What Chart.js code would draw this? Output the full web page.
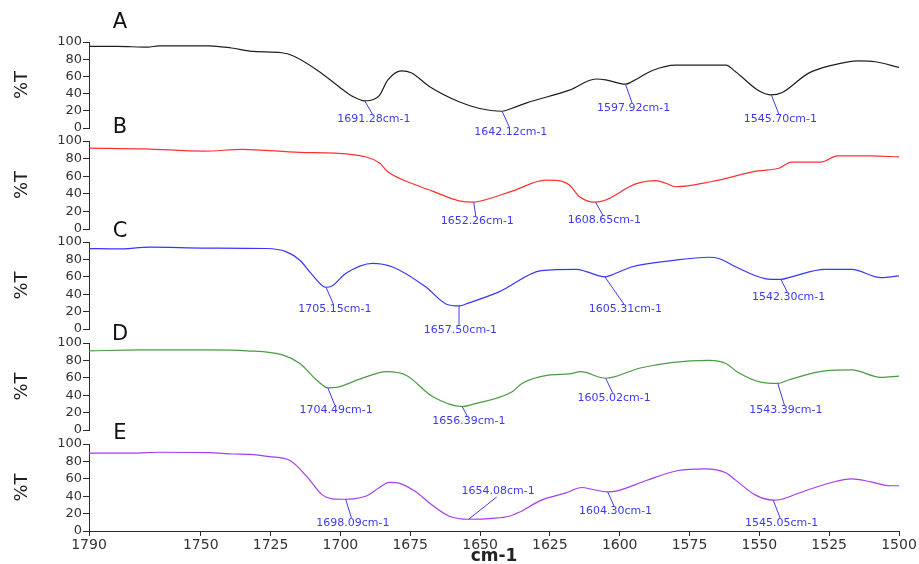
<!DOCTYPE html>
<html>
<head>
<meta charset="utf-8">
<script src="https://cdn.jsdelivr.net/npm/chart.js@4.4.1/dist/chart.umd.min.js"></script>
<style>
    body { margin: 0; background: #fff; overflow: hidden; }
    #wrap { position: relative; width: 919px; height: 564px; overflow: hidden; }
    #wrap canvas { position: absolute; left: 0; }
</style>
</head>
<body>
<div id="wrap"></div>
<script>
// --- Data (wavenumber in cm-1, transmittance in %T) ---

const X_TICKS = [1790, 1750, 1725, 1700, 1675, 1650, 1625, 1600, 1575, 1550, 1525, 1500];
const Y_TICKS = [0, 20, 40, 60, 80, 100];

const wnA = [1790, 1780, 1769, 1765, 1747, 1739, 1731, 1721, 1717, 1707.5, 1700.5, 1695.5, 1691.28, 1689.5, 1686, 1683, 1678, 1674.5, 1668, 1657.5, 1650.5, 1642.12, 1638.5, 1633.5, 1618, 1608.5, 1605, 1597.92, 1595.5, 1588.5, 1580, 1562, 1558.5, 1550.5, 1545.70, 1542, 1532.5, 1524.5, 1514.5, 1508.5, 1500];
const tA  = [95, 95, 94, 95.5, 95.5, 93, 89, 87.5, 84, 65.5, 48, 36.5, 31.5, 32, 38, 56, 66.5, 64, 48, 30.5, 23, 19.5, 23, 29, 44, 57, 56, 51, 54, 66.5, 73, 73, 65.5, 44, 38.5, 41, 63.5, 72.5, 78, 77, 70.5];

const wnB = [1790, 1770, 1749, 1735, 1714.5, 1697, 1686, 1683, 1673, 1667, 1657.5, 1652.26, 1649.5, 1638.5, 1626.5, 1622, 1618, 1614.5, 1608.65, 1605, 1594.5, 1587, 1583.5, 1580, 1567, 1550.5, 1543, 1538.5, 1528, 1522, 1510, 1500];
const tB  = [92, 91, 88.5, 90.5, 87, 85, 75, 65, 50, 43, 32, 30.5, 32, 43, 55.5, 55, 50, 37, 30.5, 33, 51, 55, 52, 48, 54, 66, 69, 76, 76, 83, 83, 82];

const wnC = [1790, 1780, 1768, 1748, 1726.5, 1719.5, 1714.5, 1710, 1705.15, 1703, 1698, 1688.5, 1681.5, 1669.5, 1662, 1657.50, 1654, 1643, 1628, 1615.5, 1612, 1605.31, 1603, 1595.5, 1581.5, 1568, 1564.5, 1558.5, 1548, 1542.30, 1538.5, 1526.5, 1517, 1506.5, 1500];
const tC  = [92.5, 92, 94, 93, 92.5, 89, 79, 62, 48, 49.5, 64, 75.5, 71.5, 48.5, 28.5, 26.5, 30, 43, 67, 68.5, 66, 60, 62, 71.5, 78.5, 82.5, 81, 71.5, 58, 57, 60, 68.5, 68.5, 59, 61];

const wnD = [1790, 1771, 1748, 1733.5, 1720.5, 1714.5, 1708.5, 1704.49, 1701.5, 1693, 1683.5, 1676.5, 1667, 1656.39, 1652, 1638.5, 1635, 1625.5, 1618, 1614, 1605.02, 1593, 1581.5, 1568, 1562, 1558, 1549.5, 1543.39, 1539.5, 1526.5, 1517, 1506.5, 1500];
const tD  = [91, 92, 92, 91, 86, 76.5, 57.5, 48.5, 49, 58.5, 67, 63, 38.5, 27, 30, 44, 53.5, 63, 64.5, 67, 59.5, 71, 77.5, 80, 76.5, 67, 55, 53.5, 57.5, 68, 69, 60.5, 62];

const wnE = [1790, 1774, 1764.5, 1747, 1738.5, 1732.5, 1725.5, 1718, 1712, 1706.5, 1703, 1698.09, 1695.5, 1690.5, 1686, 1682.5, 1679, 1673, 1668, 1661, 1654.08, 1645.5, 1639.5, 1636, 1628, 1619.5, 1613.5, 1610, 1604.30, 1600.5, 1590.5, 1579, 1569.5, 1562, 1558.5, 1551.5, 1545.05, 1542, 1535.5, 1524.5, 1517, 1510, 1503, 1500];
const tE  = [89.5, 89.5, 90.5, 90, 88.5, 88, 85.5, 81, 62.5, 41.5, 37, 36.5, 37, 40.5, 50, 56, 55, 45, 32, 17, 13.5, 14.5, 17, 21.5, 35.5, 43.5, 50, 48, 45, 46.5, 58, 69.5, 71.5, 67, 58.5, 41.5, 35.5, 36.5, 44, 55.5, 60, 56.5, 52, 52];

// peak: [wavenumber, %T at peak, label wavenumber, label %T]
const peaksA = [[1691.28, 31.5, 1688, 10.5], [1642.12, 19.5, 1639, -4.5], [1597.92, 51, 1595, 23], [1545.70, 38.5, 1542.5, 10.5]];
const peaksB = [[1652.26, 30.5, 1651, 9], [1608.65, 30.5, 1605.5, 10]];
const peaksC = [[1705.15, 48, 1702, 23], [1657.50, 26.5, 1657, -1], [1605.31, 60, 1598, 23], [1542.30, 57, 1539.5, 37]];
const peaksD = [[1704.49, 48.5, 1701.5, 23], [1656.39, 27, 1654, 10], [1605.02, 59.5, 1602, 37], [1543.39, 53.5, 1540.5, 23]];
const peaksE = [[1698.09, 36.5, 1695.5, 9], [1654.08, 13.5, 1643.5, 46], [1604.30, 45, 1601.5, 23], [1545.05, 35.5, 1542, 9]];

// --- Layout / style ---

const AXIS_COLOR = '#2b2b2b';
const PEAK_COLOR = '#3b3bef';
const FONT = '"DejaVu Sans", Arial, sans-serif';

const PANELS = [
    { letter: 'A', wn: wnA, t: tA, peaks: peaksA, color: '#1e1e1e', top: 42,  bottom: 128, letterY: 23 },
    { letter: 'B', wn: wnB, t: tB, peaks: peaksB, color: '#ff3030', top: 141, bottom: 229, letterY: 127.5 },
    { letter: 'C', wn: wnC, t: tC, peaks: peaksC, color: '#3636ff', top: 242, bottom: 329, letterY: 231.5 },
    { letter: 'D', wn: wnD, t: tD, peaks: peaksD, color: '#4b9a43', top: 343, bottom: 430, letterY: 334.5 },
    { letter: 'E', wn: wnE, t: tE, peaks: peaksE, color: '#a63cf0', top: 444, bottom: 531, letterY: 433.5 }
];

// Draws the panel letter plus the peak callouts (leader line + wavenumber text)
const peakLabels = {
    id: 'peakLabels',
    afterDraw(chart, args, opts) {
        const { ctx, chartArea, scales: { x, y } } = chart;
        ctx.save();

        ctx.fillStyle = '#111';
        ctx.font = `21px ${FONT}`;
        ctx.textAlign = 'center';
        ctx.textBaseline = 'middle';
        ctx.fillText(opts.letter, chartArea.left + 31, chartArea.top + opts.letterDy);

        ctx.font = `11px ${FONT}`;
        ctx.fillStyle = PEAK_COLOR;
        ctx.strokeStyle = PEAK_COLOR;
        ctx.lineWidth = 1;
        opts.peaks.forEach(([wn, t, lwn, lt]) => {
            const px = x.getPixelForValue(wn);
            const py = y.getPixelForValue(t);
            const lx = x.getPixelForValue(lwn);
            const ly = y.getPixelForValue(lt);
            const endY = ly > py ? ly - 5 : ly + 6;
            ctx.beginPath();
            ctx.moveTo(px, py);
            ctx.lineTo(lx - 1.5, endY);
            ctx.stroke();
            ctx.fillText(`${wn.toFixed(2)}cm-1`, lx, ly);
        });
        ctx.restore();
    }
};

function makePanel(p, i) {
    const wrap = document.getElementById('wrap');
    const last = i === PANELS.length - 1;
    const padTop = 30;
    const padBottom = last ? 0 : 22;
    const xAxisHeight = 34;
    const height = p.bottom - p.top + padTop + (last ? xAxisHeight : padBottom);

    const canvas = document.createElement('canvas');
    canvas.width = 919;
    canvas.height = height;
    canvas.style.top = `${p.top - padTop}px`;
    wrap.appendChild(canvas);

    return new Chart(canvas, {
        type: 'line',
        data: {
            datasets: [{
                data: p.wn.map((w, k) => ({ x: w, y: p.t[k] })),
                borderColor: p.color,
                borderWidth: 1.2,
                pointRadius: 0,
                fill: false,
                cubicInterpolationMode: 'monotone'
            }]
        },
        options: {
            responsive: false,
            animation: false,
            events: [],
            layout: { padding: { top: padTop, bottom: padBottom, left: 0, right: 20 } },
            plugins: {
                legend: { display: false },
                tooltip: { enabled: false },
                peakLabels: { letter: p.letter, letterDy: p.letterY - p.top, peaks: p.peaks }
            },
            scales: {
                x: {
                    type: 'linear',
                    reverse: true,
                    min: 1500,
                    max: 1790,
                    display: last,
                    afterBuildTicks: s => { s.ticks = X_TICKS.map(v => ({ value: v })); },
                    afterFit: s => { if (last) s.height = xAxisHeight; },
                    grid: { drawOnChartArea: false, tickLength: 5, color: AXIS_COLOR },
                    border: { color: AXIS_COLOR, width: 1 },
                    ticks: {
                        autoSkip: false,
                        maxRotation: 0,
                        padding: 1,
                        color: '#333',
                        font: { family: FONT, size: 14 },
                        callback: v => String(v)
                    },
                    title: {
                        display: true,
                        text: 'cm-1',
                        color: '#222',
                        padding: 0,
                        font: { family: FONT, size: 17, weight: 'bold', lineHeight: 1 }
                    }
                },
                y: {
                    min: 0,
                    max: 100,
                    afterBuildTicks: s => { s.ticks = Y_TICKS.map(v => ({ value: v })); },
                    afterFit: s => { s.width = 89; },
                    grid: { drawOnChartArea: false, tickLength: 6, color: AXIS_COLOR },
                    border: { color: AXIS_COLOR, width: 1 },
                    ticks: {
                        autoSkip: false,
                        padding: 1,
                        color: '#333',
                        font: { family: FONT, size: 13 },
                        callback: v => String(v)
                    },
                    title: {
                        display: true,
                        text: '%T',
                        color: '#222',
                        padding: { top: 12, bottom: 0 },
                        font: { family: FONT, size: 18 }
                    }
                }
            }
        },
        plugins: [peakLabels]
    });
}

PANELS.forEach(makePanel);
</script>
</body>
</html>
